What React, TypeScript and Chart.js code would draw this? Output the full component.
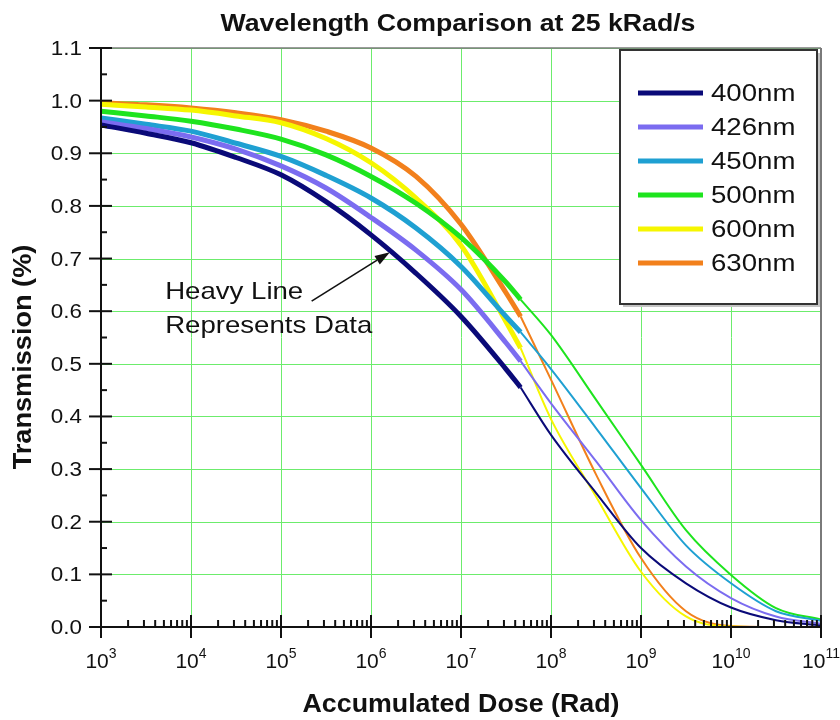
import React, { useEffect, useRef } from 'react';
import { Chart, registerables } from 'chart.js';

Chart.register(...registerables);

// ---- data ----
const chartTitle = 'Wavelength Comparison at 25 kRad/s';
const xTitle = 'Accumulated Dose (Rad)';
const yTitle = 'Transmission (%)';
const noteLines = ['Heavy Line', 'Represents Data'];

const wavelengths = ['400nm', '426nm', '450nm', '500nm', '600nm', '630nm'];
const colors = ['#0a0a78', '#7b6cf0', '#1fa0d2', '#1ee41e', '#f6f600', '#f2801c'];

// measured segment (heavy line)
const dataDose = [1e3, 3.16e3, 1e4, 3.16e4, 1e5, 3.16e5, 1e6, 3.16e6, 1e7, 3.16e7, 4.6e7];
// extrapolated segment (thin line)
const fitDose = [4.6e7, 1e8, 3.16e8, 1e9, 3.16e9, 1e10, 3.16e10, 1e11];

const data400 = [0.954, 0.938, 0.92, 0.892, 0.859, 0.808, 0.745, 0.672, 0.59, 0.49, 0.455];
const fit400 = [0.455, 0.365, 0.255, 0.15, 0.083, 0.037, 0.013, 0.003];
const data426 = [0.96, 0.947, 0.931, 0.908, 0.876, 0.834, 0.778, 0.716, 0.641, 0.54, 0.505];
const fit426 = [0.505, 0.425, 0.315, 0.203, 0.115, 0.055, 0.02, 0.006];
const data450 = [0.967, 0.955, 0.942, 0.919, 0.894, 0.858, 0.815, 0.758, 0.685, 0.59, 0.56];
const fit450 = [0.56, 0.49, 0.378, 0.264, 0.155, 0.083, 0.03, 0.012];
const data500 = [0.98, 0.971, 0.961, 0.946, 0.927, 0.897, 0.856, 0.805, 0.74, 0.655, 0.622];
const fit500 = [0.622, 0.555, 0.432, 0.308, 0.184, 0.099, 0.036, 0.014];
const data600 = [0.993, 0.988, 0.982, 0.971, 0.958, 0.928, 0.882, 0.815, 0.725, 0.58, 0.53];
const fit600 = [0.53, 0.395, 0.248, 0.105, 0.02, 0.001, 0, 0];
const data630 = [0.996, 0.992, 0.986, 0.977, 0.964, 0.942, 0.91, 0.856, 0.765, 0.635, 0.59];
const fit630 = [0.59, 0.47, 0.29, 0.131, 0.03, 0.002, 0, 0];

const dataSeries = [data400, data426, data450, data500, data600, data630];
const fitSeries = [fit400, fit426, fit450, fit500, fit600, fit630];

const xTickExponents = [3, 4, 5, 6, 7, 8, 9, 10, 11];
const yTickLabels = ['0.0', '0.1', '0.2', '0.3', '0.4', '0.5', '0.6', '0.7', '0.8', '0.9', '1.0', '1.1'];

// annotation anchors (data coordinates)
const noteTextAt = { x: 5.16e3, y: [0.623, 0.558] };
const arrowFrom = { x: 2.19e5, y: 0.619 };
const arrowTo = { x: 1.62e6, y: 0.712 };

const FONT = "'Liberation Sans', Arial, Helvetica, sans-serif";
const GRID = '#6cec6c';

function stretchText(
  ctx: CanvasRenderingContext2D,
  text: string,
  x: number,
  y: number,
  font: string,
  sx: number,
  align: CanvasTextAlign
) {
  ctx.save();
  ctx.font = font;
  ctx.textAlign = align;
  ctx.textBaseline = 'alphabetic';
  ctx.translate(x, y);
  ctx.scale(sx, 1);
  ctx.fillText(text, 0, 0);
  ctx.restore();
}

const gridPlugin = {
  id: 'greenGrid',
  beforeDatasetsDraw(chart: any) {
    const ctx: CanvasRenderingContext2D = chart.ctx;
    const xs = chart.scales.x;
    const ys = chart.scales.y;
    const { left, right, top, bottom } = chart.chartArea;
    ctx.save();
    ctx.strokeStyle = GRID;
    ctx.lineWidth = 1;
    xTickExponents.forEach((e) => {
      const px = Math.round(xs.getPixelForValue(Math.pow(10, e))) + 0.5;
      ctx.beginPath();
      ctx.moveTo(px, top);
      ctx.lineTo(px, bottom);
      ctx.stroke();
    });
    yTickLabels.forEach((_, i) => {
      const py = Math.round(ys.getPixelForValue(i / 10)) + 0.5;
      ctx.beginPath();
      ctx.moveTo(left, py);
      ctx.lineTo(right, py);
      ctx.stroke();
    });
    ctx.restore();
  },
};

const decorPlugin = {
  id: 'decor',
  afterDatasetsDraw(chart: any) {
    const ctx: CanvasRenderingContext2D = chart.ctx;
    const xs = chart.scales.x;
    const ys = chart.scales.y;
    const { left, right, top, bottom } = chart.chartArea;
    ctx.save();

    // frame (top/right) gray
    ctx.strokeStyle = '#7a7a7a';
    ctx.lineWidth = 1.5;
    ctx.beginPath();
    ctx.moveTo(left, top);
    ctx.lineTo(right, top);
    ctx.stroke();
    ctx.lineWidth = 2;
    ctx.beginPath();
    ctx.moveTo(right, top);
    ctx.lineTo(right, bottom);
    ctx.stroke();

    // axes (left/bottom) black
    ctx.strokeStyle = '#111';
    ctx.lineWidth = 2;
    ctx.beginPath();
    ctx.moveTo(left, top);
    ctx.lineTo(left, bottom);
    ctx.lineTo(right, bottom);
    ctx.stroke();

    // y ticks
    ctx.lineWidth = 2;
    yTickLabels.forEach((lab, i) => {
      const v = i / 10;
      const py = ys.getPixelForValue(v);
      ctx.beginPath();
      ctx.moveTo(left - 12, py);
      ctx.lineTo(left + 11, py);
      ctx.stroke();
      if (i < yTickLabels.length - 1) {
        const pm = ys.getPixelForValue(v + 0.05);
        ctx.beginPath();
        ctx.moveTo(left, pm);
        ctx.lineTo(left + 6, pm);
        ctx.stroke();
      }
      ctx.fillStyle = '#111';
      stretchText(ctx, lab, left - 19, py + 7, `20px ${FONT}`, 1.12, 'right');
    });

    // x ticks
    xTickExponents.forEach((e, i) => {
      const dec = Math.pow(10, e);
      const px = xs.getPixelForValue(dec);
      ctx.beginPath();
      ctx.moveTo(px, bottom - 12);
      ctx.lineTo(px, bottom + 11);
      ctx.stroke();
      if (i < xTickExponents.length - 1) {
        for (let k = 2; k <= 9; k++) {
          const pm = xs.getPixelForValue(k * dec);
          ctx.beginPath();
          ctx.moveTo(pm, bottom);
          ctx.lineTo(pm, bottom - 7);
          ctx.stroke();
        }
      }
      // label 10^e
      ctx.fillStyle = '#111';
      ctx.font = `21px ${FONT}`;
      const wb = ctx.measureText('10').width;
      ctx.font = `14px ${FONT}`;
      const ws = ctx.measureText(String(e)).width;
      const x0 = px - (wb + ws) / 2;
      stretchText(ctx, '10', x0, bottom + 41, `21px ${FONT}`, 1, 'left');
      stretchText(ctx, String(e), x0 + wb, bottom + 31, `14px ${FONT}`, 1, 'left');
    });

    // titles
    ctx.fillStyle = '#111';
    stretchText(ctx, chartTitle, 458, 31, `bold 23px ${FONT}`, 1.16, 'center');
    stretchText(ctx, xTitle, (left + right) / 2, 712, `bold 26px ${FONT}`, 1.03, 'center');
    ctx.save();
    ctx.translate(31, 357);
    ctx.rotate(-Math.PI / 2);
    stretchText(ctx, yTitle, 0, 0, `bold 25px ${FONT}`, 1.085, 'center');
    ctx.restore();

    // legend box
    const lx = 620, ly = 50, lw = 197, lh = 254;
    ctx.fillStyle = '#c4c4c4';
    ctx.fillRect(lx + 3, ly + 3, lw, lh);
    ctx.fillStyle = '#fff';
    ctx.fillRect(lx, ly, lw, lh);
    ctx.strokeStyle = '#333';
    ctx.lineWidth = 2;
    ctx.strokeRect(lx, ly, lw, lh);
    const legendSets = chart.data.datasets.filter((d: any) => d.isData);
    legendSets.forEach((d: any, i: number) => {
      const yy = 93 + i * 34;
      ctx.strokeStyle = d.borderColor;
      ctx.lineWidth = 5;
      ctx.beginPath();
      ctx.moveTo(638, yy);
      ctx.lineTo(703, yy);
      ctx.stroke();
      ctx.fillStyle = '#111';
      stretchText(ctx, d.label, 711, yy + 8, `23px ${FONT}`, 1.2, 'left');
    });

    // annotation
    ctx.fillStyle = '#111';
    const tx = xs.getPixelForValue(noteTextAt.x);
    noteLines.forEach((t, i) => {
      stretchText(ctx, t, tx, ys.getPixelForValue(noteTextAt.y[i]), `24px ${FONT}`, 1.15, 'left');
    });
    const ax0 = xs.getPixelForValue(arrowFrom.x);
    const ay0 = ys.getPixelForValue(arrowFrom.y);
    const ax1 = xs.getPixelForValue(arrowTo.x);
    const ay1 = ys.getPixelForValue(arrowTo.y);
    const ang = Math.atan2(ay1 - ay0, ax1 - ax0);
    const hl = 15, hw = 5;
    const bx = ax1 - hl * Math.cos(ang);
    const by = ay1 - hl * Math.sin(ang);
    ctx.strokeStyle = '#111';
    ctx.lineWidth = 1.6;
    ctx.beginPath();
    ctx.moveTo(ax0, ay0);
    ctx.lineTo(bx, by);
    ctx.stroke();
    ctx.beginPath();
    ctx.moveTo(ax1, ay1);
    ctx.lineTo(bx + hw * Math.sin(ang), by - hw * Math.cos(ang));
    ctx.lineTo(bx - hw * Math.sin(ang), by + hw * Math.cos(ang));
    ctx.closePath();
    ctx.fill();

    ctx.restore();
  },
};

export default function App() {
  const ref = useRef<HTMLCanvasElement | null>(null);

  useEffect(() => {
    document.body.style.margin = '0';
    const canvas = ref.current;
    if (!canvas) return;

    const datasets: any[] = [];
    wavelengths.forEach((w, i) => {
      datasets.push({
        label: w + ' extrapolated',
        isData: false,
        data: fitDose.map((x, j) => ({ x, y: fitSeries[i][j] })),
        borderColor: colors[i],
        borderWidth: 2,
        pointRadius: 0,
        fill: false,
        cubicInterpolationMode: 'monotone',
      });
    });
    wavelengths.forEach((w, i) => {
      datasets.push({
        label: w,
        isData: true,
        data: dataDose.map((x, j) => ({ x, y: dataSeries[i][j] })),
        borderColor: colors[i],
        borderWidth: 5,
        pointRadius: 0,
        fill: false,
        cubicInterpolationMode: 'monotone',
      });
    });

    const chart = new Chart(canvas, {
      type: 'line',
      data: { datasets },
      options: {
        animation: false,
        responsive: false,
        devicePixelRatio: 1,
        layout: { padding: { left: 101, top: 48, right: 19, bottom: 93 } },
        plugins: {
          legend: { display: false },
          title: { display: false },
          tooltip: { enabled: false },
        },
        scales: {
          x: {
            type: 'logarithmic',
            min: 1e3,
            max: 1e11,
            ticks: { display: false },
            grid: { display: false, drawTicks: false },
            border: { display: false },
          },
          y: {
            type: 'linear',
            min: 0,
            max: 1.1,
            ticks: { display: false, stepSize: 0.1 },
            grid: { display: false, drawTicks: false },
            border: { display: false },
          },
        },
      } as any,
      plugins: [gridPlugin, decorPlugin],
    });

    return () => chart.destroy();
  }, []);

  return (
    <div style={{ width: 840, height: 720, background: '#fff' }}>
      <canvas ref={ref} width={840} height={720} style={{ display: 'block' }} />
    </div>
  );
}
